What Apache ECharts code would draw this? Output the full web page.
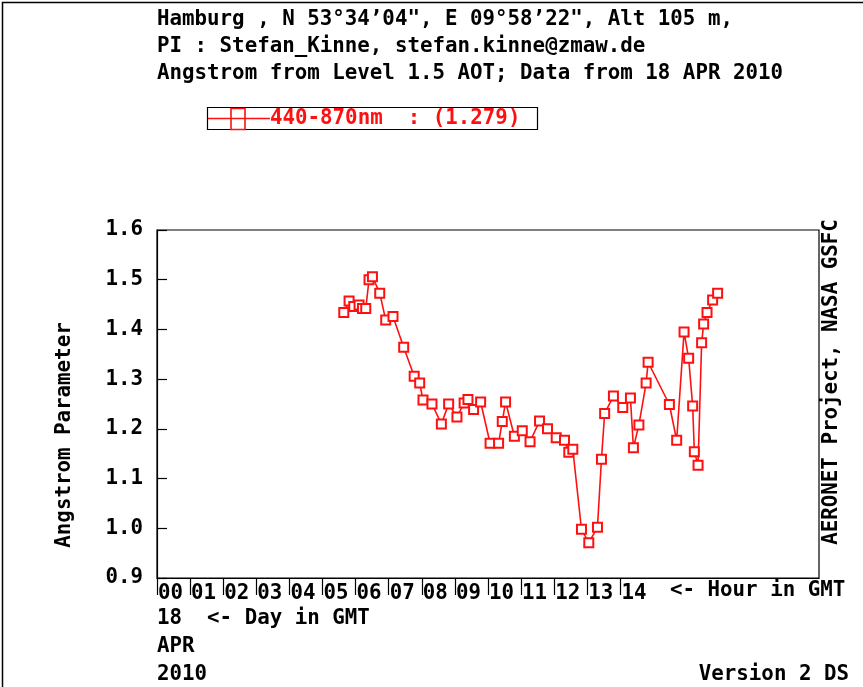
<!DOCTYPE html>
<html>
<head>
<meta charset="utf-8">
<script src="https://cdn.jsdelivr.net/npm/echarts@6/dist/echarts.min.js"></script>
<style>
  html, body { margin: 0; padding: 0; background: #fff; }
  #chart { width: 863px; height: 687px; }
</style>
</head>
<body>
<div id="chart"></div>
<script>
// Observation times (decimal hours, GMT) on 18 APR 2010
const hoursGMT = [
  5.643, 5.803, 5.944, 6.104, 6.207, 6.307, 6.406, 6.509, 6.729, 6.910,
  7.130, 7.453, 7.770, 7.936, 8.036, 8.307, 8.591, 8.811, 9.062, 9.279,
  9.394, 9.565, 9.777, 10.063, 10.320, 10.431, 10.531, 10.797, 11.035, 11.270,
  11.557, 11.798, 12.061, 12.311, 12.441, 12.562, 12.824, 13.045, 13.307, 13.428,
  13.524, 13.790, 14.071, 14.303, 14.393, 14.559, 14.777, 14.837, 15.480, 15.700,
  15.923, 16.062, 16.183, 16.234, 16.346, 16.454, 16.515, 16.617, 16.786, 16.937
];

// Angstrom exponent 440-870nm
const angstrom440_870 = [
  1.434, 1.457, 1.446, 1.449, 1.442, 1.442, 1.500, 1.506, 1.473, 1.419,
  1.426, 1.364, 1.306, 1.292, 1.258, 1.250, 1.210, 1.250, 1.224, 1.252,
  1.259, 1.239, 1.254, 1.171, 1.171, 1.215, 1.254, 1.185, 1.196, 1.174,
  1.216, 1.200, 1.182, 1.177, 1.153, 1.159, 0.998, 0.971, 1.002, 1.139,
  1.231, 1.266, 1.243, 1.262, 1.162, 1.208, 1.292, 1.334, 1.249, 1.177,
  1.395, 1.342, 1.246, 1.154, 1.127, 1.373, 1.411, 1.434, 1.459, 1.473
];

const hourTicks = [0, 1, 2, 3, 4, 5, 6, 7, 8, 9, 10, 11, 12, 13, 14];
const seriesName = '440-870nm';
const seriesMean = '1.279';

const titleLines = [
  'Hamburg , N 53°34\u201904", E 09°58\u201922", Alt 105 m,',
  'PI : Stefan_Kinne, stefan.kinne@zmaw.de',
  'Angstrom from Level 1.5 AOT; Data from 18 APR 2010'
];

const FONT = '"DejaVu Sans Mono", monospace';
const FS = 20.8;
const RED = '#ff1010';

const chart = echarts.init(document.getElementById('chart'), null, { renderer: 'canvas' });

function txt(x, y, text, opts) {
  return Object.assign({
    type: 'text', x: x, y: y,
    style: Object.assign({
      text: text, font: 'bold ' + FS + 'px ' + FONT, fill: '#000',
      textVerticalAlign: 'middle'
    }, (opts && opts.style) || {})
  }, (opts && opts.el) || {});
}

const graphics = [
  // outer frame
  { type: 'rect', shape: { x: 2.5, y: 2.5, width: 1000, height: 1000 }, style: { fill: 'none', stroke: '#000', lineWidth: 1.5 }, silent: true },
  txt(157, 20, titleLines[0]),
  txt(157, 47, titleLines[1]),
  txt(157, 74, titleLines[2]),
  // legend box
  { type: 'rect', shape: { x: 207.5, y: 107.5, width: 330, height: 22 }, style: { fill: 'none', stroke: '#000', lineWidth: 1.2 } },
  { type: 'line', shape: { x1: 208, y1: 118.5, x2: 270, y2: 118.5 }, style: { stroke: RED, lineWidth: 1.6 } },
  { type: 'rect', shape: { x: 231, y: 108.5, width: 14, height: 21 }, style: { fill: 'none', stroke: RED, lineWidth: 1.6 } },
  txt(270, 119, seriesName + '  : (' + seriesMean + ')', { style: { fill: RED } }),
  // axis captions
  txt(670, 591, '<- Hour in GMT'),
  txt(157, 619, '18  <- Day in GMT'),
  txt(157, 647, 'APR'),
  txt(157, 675, '2010'),
  txt(849, 675, 'Version 2 DS', { style: { textAlign: 'right' } }),
  txt(65, 435, 'Angstrom Parameter', { style: { textAlign: 'center' }, el: { rotation: Math.PI / 2 } }),
  txt(832, 382, 'AERONET Project, NASA GSFC', { style: { textAlign: 'center' }, el: { rotation: Math.PI / 2 } })
];

chart.setOption({
  animation: false,
  backgroundColor: '#fff',
  grid: {
    left: 157, top: 230, width: 662, height: 348,
    show: true, borderColor: '#000', borderWidth: 1.2, backgroundColor: 'transparent'
  },
  xAxis: {
    type: 'value', min: 0, max: 20, interval: 1,
    axisLine: { show: true, onZero: false, lineStyle: { color: '#000', width: 1.2 } },
    splitLine: { show: false },
    axisTick: { show: true, inside: false, length: 17, customValues: hourTicks, lineStyle: { color: '#000', width: 1.2 } },
    axisLabel: {
      customValues: hourTicks,
      formatter: v => String(v).padStart(2, '0'),
      align: 'left', verticalAlign: 'top', margin: 5, padding: [0, 0, 0, 1],
      fontFamily: FONT, fontWeight: 'bold', fontSize: FS, color: '#000'
    }
  },
  yAxis: {
    type: 'value', min: 0.9, max: 1.6, interval: 0.1,
    axisLine: { show: true, lineStyle: { color: '#000', width: 1.2 } },
    splitLine: { show: false },
    axisTick: { show: true, inside: true, length: 10, lineStyle: { color: '#000', width: 1.2 } },
    axisLabel: {
      formatter: v => v.toFixed(1), margin: 14,
      fontFamily: FONT, fontWeight: 'bold', fontSize: FS, color: '#000'
    }
  },
  series: [{
    name: seriesName,
    type: 'line',
    data: hoursGMT.map((h, i) => [h, angstrom440_870[i]]),
    symbol: 'emptyRect', symbolSize: 9,
    lineStyle: { color: RED, width: 1.6 },
    itemStyle: { color: RED, borderColor: RED, borderWidth: 1.6 }
  }],
  graphic: graphics
});
</script>
</body>
</html>
